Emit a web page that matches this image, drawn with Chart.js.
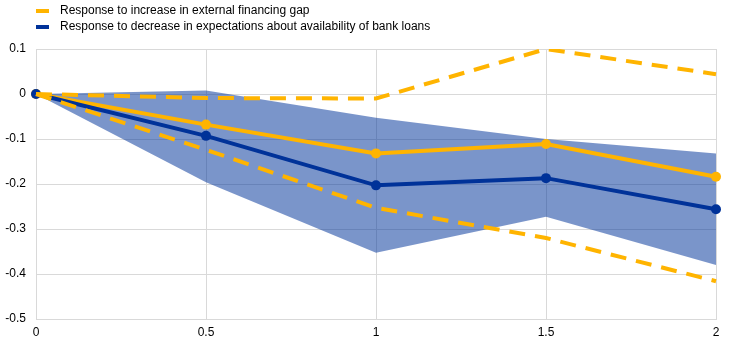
<!DOCTYPE html>
<html>
<head>
<meta charset="utf-8">
<script src="https://cdn.jsdelivr.net/npm/chart.js@4"></script>
<style>
  body { margin: 0; background: #fff; font-family: "Liberation Sans", Arial, sans-serif; }
  #wrap { position: relative; width: 744px; height: 344px; }
  #legend { position: absolute; left: 36px; top: 2px; font-size: 12px; color: #000; }
  #legend div { height: 16px; line-height: 16px; white-space: nowrap; }
  #legend span { display: inline-block; width: 13px; height: 4px; vertical-align: middle; margin-right: 11px; }
</style>
</head>
<body>
<div id="wrap">
  <canvas id="c" width="744" height="344"></canvas>
  <div id="legend">
    <div><span style="background:#ffb400"></span>Response to increase in external financing gap</div>
    <div><span style="background:#003299"></span>Response to decrease in expectations about availability of bank loans</div>
  </div>
</div>
<script>
var horizons = ['0', '0.5', '1', '1.5', '2'];
var gapResponse = [0, -0.068, -0.132, -0.111, -0.184];
var gapUpper = [0, -0.009, -0.01, 0.1, 0.044];
var gapLower = [0, -0.124, -0.253, -0.32, -0.416];
var loansResponse = [0, -0.093, -0.203, -0.187, -0.256];
var loansUpper = [0, 0.008, -0.053, -0.1, -0.132];
var loansLower = [0, -0.196, -0.353, -0.273, -0.38];

var yellow = '#ffb400';
var blue = '#003299';
var band = 'rgba(0,51,153,0.52)';

var ctx = document.getElementById('c');
var chart = new Chart(ctx, {
    type: 'line',
    data: {
        labels: horizons,
        datasets: [
            { data: gapUpper, borderColor: yellow, borderWidth: 4, borderDash: [16, 10], pointRadius: 0, fill: false, order: 0 },
            { data: gapLower, borderColor: yellow, borderWidth: 4, borderDash: [16, 10], pointRadius: 0, fill: false, order: 0 },
            { data: gapResponse, borderColor: yellow, backgroundColor: yellow, borderWidth: 4, pointRadius: 5, pointBorderWidth: 0, fill: false, order: 2 },
            { data: loansResponse, borderColor: blue, backgroundColor: blue, borderWidth: 4, pointRadius: 5, pointBorderWidth: 0, fill: false, order: 1 },
            { data: loansUpper, borderWidth: 0, borderColor: 'rgba(0,0,0,0)', pointRadius: 0, fill: '+1', backgroundColor: band, order: 3 },
            { data: loansLower, borderWidth: 0, borderColor: 'rgba(0,0,0,0)', pointRadius: 0, fill: false, order: 3 }
        ]
    },
    options: {
        responsive: false,
        animation: false,
        layout: { padding: { top: 49, right: 28, left: 0, bottom: 0 } },
        plugins: { legend: { display: false }, tooltip: { enabled: false } },
        elements: { line: { tension: 0 } },
        scales: {
            x: {
                offset: false,
                grid: { color: '#d9d9d9', lineWidth: 1, drawTicks: false },
                border: { color: '#d9d9d9' },
                ticks: { color: '#000', font: { family: 'Liberation Sans', size: 12 }, padding: 6, maxRotation: 0 },
                afterFit: function (s) { s.height = 25; }
            },
            y: {
                min: -0.5,
                max: 0.1,
                grid: { color: '#d9d9d9', lineWidth: 1, drawTicks: false },
                border: { color: '#d9d9d9' },
                ticks: {
                    stepSize: 0.1,
                    color: '#000',
                    font: { family: 'Liberation Sans', size: 12 },
                    padding: 10,
                    callback: function (v) { return Math.round(v * 10) / 10; }
                },
                afterFit: function (s) { s.width = 36; }
            }
        }
    }
});
</script>
</body>
</html>
